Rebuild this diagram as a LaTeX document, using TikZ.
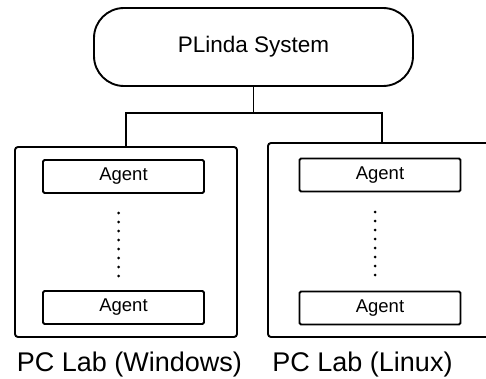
\documentclass[tikz,border=0pt]{standalone}
\usepackage{fontspec}
\setmainfont{Liberation Sans}
\begin{document}
\begin{tikzpicture}[x=1pt,y=-1pt,
  every node/.style={inner sep=0pt,outer sep=0pt},
  line/.style={draw=black,line width=1.9pt},
  sysbox/.style={line,rounded corners=30pt,minimum width=319pt,minimum height=78pt,font=\fontsize{22.5}{26}\selectfont},
  labbox/.style={line,rounded corners=3pt},
  agentbox/.style={line,rounded corners=1.5pt,minimum width=161pt,minimum height=33pt,font=\fontsize{18.5}{22}\selectfont},
  labtext/.style={font=\fontsize{27}{30}\selectfont},
  dotline/.style={line width=3pt,line cap=round,dash pattern=on 0pt off 9pt}]
\useasboundingbox (0,0) rectangle (486,379);
\clip (0,0) rectangle (486,379);
\node[sysbox] (sys) at (253.5,47) {PLinda System};
\node[labbox,minimum width=222pt,minimum height=190pt] (win) at (126,242) {};
\node[labbox,minimum width=228pt,minimum height=194pt] (lin) at (382,240) {};
\node[agentbox] (wa1) at (123.5,176.5) {Agent};
\node[agentbox] (wa2) at (123.5,307.5) {Agent};
\node[agentbox] (la1) at (380,175) {Agent};
\node[agentbox] (la2) at (380,308) {Agent};
\node[labtext] (wlab) at (129.5,365) {PC Lab (Windows)};
\node[labtext] (llab) at (362.5,365) {PC Lab (Linux)};
\coordinate (j) at (253.5,113);
\draw[line] (sys.south) -- (j);
\draw[line] (j) -| (win.north);
\draw[line] (j) -| (lin.north);
\draw[dotline] ([xshift=-5pt,yshift=-20pt]wa1.south) -- ([xshift=-5pt,yshift=15pt]wa2.north);
\draw[dotline] ([xshift=-5pt,yshift=-20.5pt]la1.south) -- ([xshift=-5pt,yshift=16pt]la2.north);
\end{tikzpicture}
\end{document}
